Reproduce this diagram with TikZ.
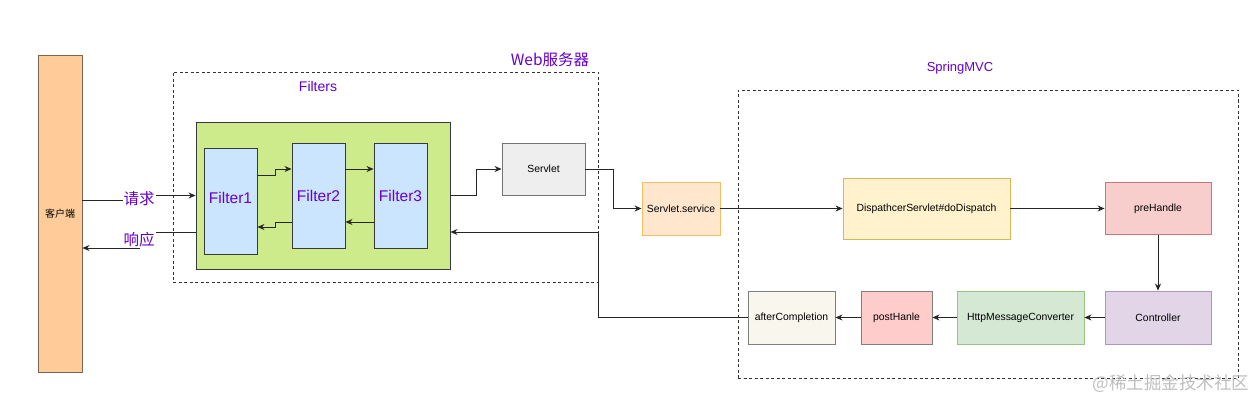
\documentclass[tikz,border=0pt]{standalone}
\usepackage{fontspec}
\setmainfont{Liberation Sans}
\newfontfamily\cjk{Noto Sans CJK SC}
\usetikzlibrary{arrows.meta}
\definecolor{purp}{HTML}{6600CC}
\definecolor{edgec}{HTML}{36393D}
\definecolor{filtfill}{HTML}{CCE5FF}
\definecolor{clfill}{HTML}{FFCC99}
\definecolor{clstroke}{HTML}{7A6650}
\definecolor{greenfill}{HTML}{CDEB8B}
\definecolor{svfill}{HTML}{EEEEEE}
\definecolor{ssfill}{HTML}{FFE6CC}
\definecolor{ssstroke}{HTML}{F0BE64}
\definecolor{ddfill}{HTML}{FFF2CC}
\definecolor{ddstroke}{HTML}{D6B656}
\definecolor{phfill}{HTML}{F8CECC}
\definecolor{phstroke}{HTML}{C87876}
\definecolor{ctfill}{HTML}{E1D5E7}
\definecolor{ctstroke}{HTML}{AA96BE}
\definecolor{hmfill}{HTML}{D5E8D4}
\definecolor{hmstroke}{HTML}{96C382}
\definecolor{pofill}{HTML}{FFCCCC}
\definecolor{acfill}{HTML}{F9F7ED}
\tikzset{
  box/.style={draw=#1, line width=0.9pt, inner sep=0pt, font=\fontsize{10.4}{12}\selectfont},
  filt/.style={draw=edgec, fill=filtfill, line width=0.9pt, minimum width=53pt, minimum height=105pt, inner sep=0pt, text=purp, font=\fontsize{15.5}{17}\selectfont},
  arr/.style={draw=black!85, line width=0.8pt, -{Stealth[length=7pt,width=6pt]}},
  frame/.style={draw=black!80, line width=0.8pt, dash pattern=on 3pt off 2.5pt, inner sep=0pt},
  lbl/.style={text=purp, inner sep=1pt},
}
\begin{document}
\begin{tikzpicture}[x=1pt,y=-1pt]
\useasboundingbox (0,0) rectangle (1257,401);
% frames
\node[frame, minimum width=425pt, minimum height=210pt] (web) at (385.5,177) {};
\node[lbl, font=\cjk\fontsize{15.5}{17}\selectfont] (webl) at (550,60) {Web服务器};
\node[frame, minimum width=500pt, minimum height=288pt] (mvc) at (988,234) {};
\node[lbl, font=\fontsize{13}{15}\selectfont] (mvcl) at (960,68) {SpringMVC};
\node[lbl, font=\fontsize{14}{16}\selectfont] (filtl) at (318,86) {Filters};
% client
\node[box=clstroke, fill=clfill, minimum width=44pt, minimum height=317pt, font=\cjk\fontsize{10}{11}\selectfont] (cl) at (60,213.5) {客户端};
% filters
\node[box=edgec, fill=greenfill, minimum width=254pt, minimum height=147pt] (green) at (323,195.5) {};
\node[filt, minimum height=106pt] (f1) at (230.5,201) {\raisebox{5.5pt}{Filter1}};
\node[filt] (f2) at (318.5,195.5) {Filter2};
\node[filt] (f3) at (400.5,195.5) {Filter3};
% servlet etc
\node[box=black!55, fill=svfill, minimum width=83pt, minimum height=52pt] (sv) at (543.5,169) {Servlet};
\node[box=ssstroke, fill=ssfill, minimum width=78pt, minimum height=53pt] (ss) at (681,208.5) {Servlet.service};
\node[box=ddstroke, fill=ddfill, minimum width=167pt, minimum height=61pt] (dd) at (926.5,208.5) {DispathcerServlet\#doDispatch};
\node[box=phstroke, fill=phfill, minimum width=106pt, minimum height=52pt] (ph) at (1158,208.5) {preHandle};
\node[box=ctstroke, fill=ctfill, minimum width=106pt, minimum height=53pt] (ctrl) at (1158,317.5) {Controller};
\node[box=hmstroke, fill=hmfill, minimum width=127pt, minimum height=53pt] (hmc) at (1020.5,317.5) {HttpMessageConverter};
\node[box=black!50, fill=pofill, minimum width=71pt, minimum height=53pt] (post) at (896.5,317.5) {postHanle};
\node[box=black!50, fill=acfill, minimum width=87pt, minimum height=53pt] (ac) at (791.5,317.5) {afterCompletion};
% request / response
\draw[arr] ([yshift=13.5pt]cl.east) -- (139,200) -- (139,195.5) -- (green.west);
\node[lbl, fill=white, font=\cjk\fontsize{15.5}{17}\selectfont] (req) at (139,199) {请求};
\draw[arr] ([yshift=-36.5pt]green.west) -- (139,232) -- (139,248) -- ([yshift=-34.5pt]cl.east);
\node[lbl, fill=white, font=\cjk\fontsize{15.5}{17}\selectfont] (resp) at (139,240) {响应};
% filter chain
\draw[arr] ([yshift=26pt]f1.east) -- (275,175) |- ([yshift=26.5pt]f2.west);
\draw[arr] ([yshift=-26.5pt]f2.west) -- (275,222) |- ([yshift=-26pt]f1.east);
\draw[arr] ([yshift=26.5pt]f2.east) -- ([yshift=26.5pt]f3.west);
\draw[arr] ([yshift=-26.5pt]f3.west) -- ([yshift=-26.5pt]f2.east);
% servlet path
\draw[arr] (green.east) -- (476,195.5) |- (sv.west);
\draw[arr] (sv.east) -- (613,169) |- (ss.west);
\draw[arr] (ss.east) -- (dd.west);
\draw[arr] (dd.east) -- (ph.west);
\draw[arr] (ph.south) -- (ctrl.north);
\draw[arr] (ctrl.west) -- (hmc.east);
\draw[arr] (hmc.west) -- (post.east);
\draw[arr] (post.west) -- (ac.east);
\draw[arr] (ac.west) -- (598,317.5) |- ([yshift=-36.5pt]green.east);
% watermark
\node[text=black!25, font=\cjk\fontsize{17.5}{19}\selectfont, inner sep=0pt] (wm) at (1171,384) {@稀土掘金技术社区};
\end{tikzpicture}
\end{document}
